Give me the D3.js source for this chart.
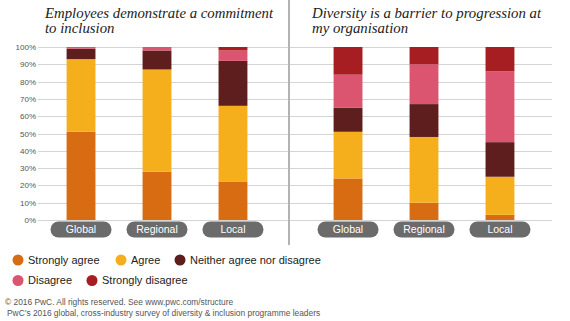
<!doctype html>
<html>
<head>
<meta charset="utf-8">
<style>
  html, body { margin: 0; padding: 0; background: #fff; }
  svg { display: block; }
  .title { font-family: "Liberation Serif", serif; font-style: italic; font-size: 14.8px; fill: #222; }
  .tick text { font-family: "Liberation Sans", Arial, sans-serif; font-size: 8px; fill: #555; }
  .pill text { font-family: "Liberation Sans", Arial, sans-serif; font-size: 10.5px; fill: #fff; }
  .legend text { font-family: "Liberation Sans", Arial, sans-serif; font-size: 11px; fill: #222; }
  .foot { font-family: "Liberation Sans", Arial, sans-serif; font-size: 8.4px; fill: #555; }
</style>
</head>
<body>
<script src="https://d3js.org/d3.v7.min.js"></script>
<script>
// data (percent of respondents)
var regions = ["Global", "Regional", "Local"];
var answers = ["Strongly agree", "Agree", "Neither agree nor disagree", "Disagree", "Strongly disagree"];
var colors = ["#d86c12", "#f5af1c", "#5e1e1d", "#dc5570", "#a61d22"];
var yTicks = [0, 10, 20, 30, 40, 50, 60, 70, 80, 90, 100];

var commitGlobal = [51, 42, 6, 1, 0];
var commitRegional = [28, 59, 11, 2, 0];
var commitLocal = [22, 44, 26, 6, 2];

var barrierGlobal = [24, 27, 14, 19, 16];
var barrierRegional = [10, 38, 19, 23, 10];
var barrierLocal = [3, 22, 20, 41, 14];

var panels = [
  { title: ["Employees demonstrate a commitment", "to inclusion"], rows: [commitGlobal, commitRegional, commitLocal] },
  { title: ["Diversity is a barrier to progression at", "my organisation"], rows: [barrierGlobal, barrierRegional, barrierLocal] }
];

var W = 570, H = 321;
var svg = d3.select("body").append("svg").attr("width", W).attr("height", H);

var y = d3.scaleLinear().domain([0, 100]).range([220, 47]);

// panel layout: gridline extent and band range
var layout = [
  { x0: 38, x1: 288, bx0: 40, bx1: 274, titleX: 45 },
  { x0: 290, x1: 552, bx0: 307, bx1: 541, titleX: 312 }
];

panels.forEach(function(p, pi) {
  var L = layout[pi];
  var g = svg.append("g");

  var x = d3.scaleBand().domain(regions).range([L.bx0, L.bx1]).paddingInner(0.62).paddingOuter(0.35);

  // gridlines
  g.selectAll("line.grid").data(yTicks).join("line")
    .attr("class", "grid")
    .attr("x1", L.x0).attr("x2", L.x1)
    .attr("y1", function(d) { return Math.round(y(d)) + 0.5; })
    .attr("y2", function(d) { return Math.round(y(d)) + 0.5; })
    .attr("stroke", "#d4d4d4").attr("stroke-width", 1);

  if (pi === 0) {
    var ax = g.append("g").attr("transform", "translate(36,0)")
      .call(d3.axisLeft(y).tickValues(yTicks).tickSize(0).tickPadding(0).tickFormat(function(d) { return d + "%"; }));
    ax.select(".domain").remove();
  }

  // stacked bars
  var stackData = p.rows.map(function(r, i) {
    var o = { region: regions[i] };
    answers.forEach(function(a, k) { o[a] = r[k]; });
    return o;
  });
  var series = d3.stack().keys(answers)(stackData);
  g.selectAll("g.layer").data(series).join("g")
    .attr("class", "layer")
    .attr("fill", function(d, i) { return colors[i]; })
    .selectAll("rect").data(function(d) { return d; }).join("rect")
    .attr("x", function(d) { return x(d.data.region); })
    .attr("width", x.bandwidth())
    .attr("y", function(d) { return y(d[1]); })
    .attr("height", function(d) { return y(d[0]) - y(d[1]); });

  // pill labels
  var pill = g.selectAll("g.pill").data(regions).join("g")
    .attr("class", "pill")
    .attr("transform", function(d) { return "translate(" + (x(d) + x.bandwidth() / 2) + ",229.5)"; });
  pill.append("rect")
    .attr("x", -30.5).attr("y", -8).attr("width", 61).attr("height", 16)
    .attr("rx", 8).attr("fill", "#6b6b6b");
  pill.append("text")
    .attr("text-anchor", "middle").attr("dy", "0.36em")
    .text(function(d) { return d; });

  // title
  var t = g.append("text").attr("class", "title").attr("x", L.titleX).attr("y", 18);
  t.selectAll("tspan").data(p.title).join("tspan")
    .attr("x", L.titleX).attr("dy", function(d, i) { return i ? 14.5 : 0; })
    .text(function(d) { return d; });
});

// divider
svg.append("line").attr("x1", 289).attr("x2", 289).attr("y1", 0).attr("y2", 245)
  .attr("stroke", "#b3b3b3").attr("stroke-width", 2);

// legend
var legendPos = [
  { x: 18, y: 260 }, { x: 121, y: 260 }, { x: 180, y: 260 },
  { x: 18, y: 280.5 }, { x: 92, y: 280.5 }
];
var lg = svg.append("g").attr("class", "legend").selectAll("g").data(answers).join("g")
  .attr("transform", function(d, i) { return "translate(" + legendPos[i].x + "," + legendPos[i].y + ")"; });
lg.append("circle").attr("r", 5.5).attr("fill", function(d, i) { return colors[i]; });
lg.append("text").attr("x", 10).attr("dy", "0.36em").text(function(d) { return d; });

// footer
svg.append("text").attr("class", "foot").attr("x", 5).attr("y", 305)
  .text("\u00a9 2016 PwC.  All rights reserved.  See www.pwc.com/structure");
svg.append("text").attr("class", "foot").attr("x", 7).attr("y", 316)
  .text("PwC\u2019s 2016 global, cross-industry survey of diversity & inclusion programme leaders");
</script>
</body>
</html>
